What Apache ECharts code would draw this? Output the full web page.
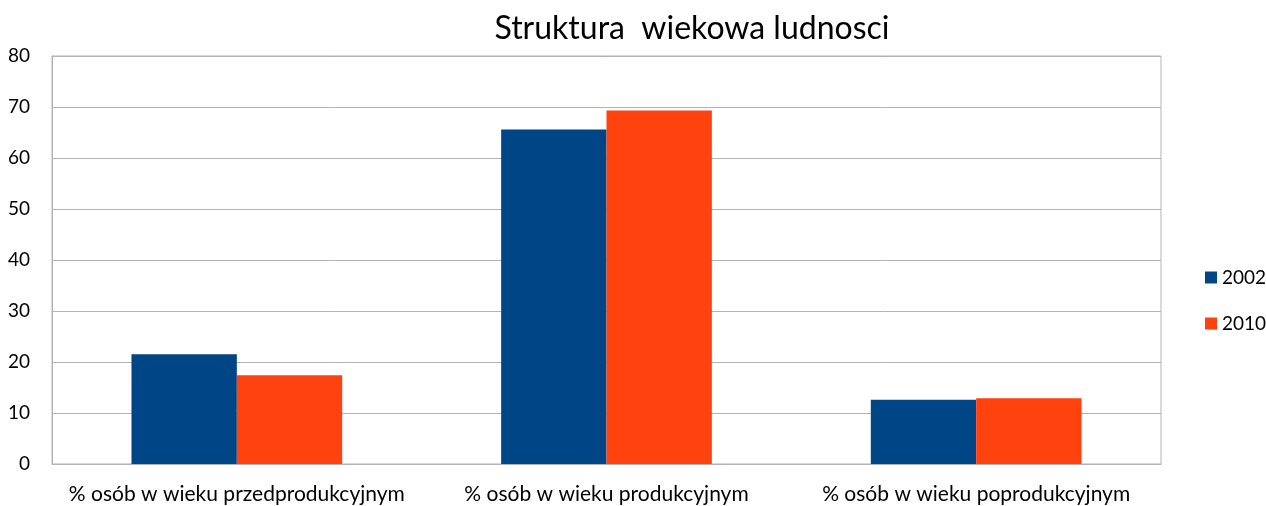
<!DOCTYPE html>
<html>
<head>
<meta charset="utf-8">
<script src="https://cdn.jsdelivr.net/npm/echarts@6/dist/echarts.min.js"></script>
<style>
  html, body { margin: 0; padding: 0; background: #fff; }
  #chart { width: 1266px; height: 506px; }
</style>
</head>
<body>
<div id="chart"></div>
<script>
// kategorie i dane
var categories = [
    '% osób w wieku przedprodukcyjnym',
    '% osób w wieku produkcyjnym',
    '% osób w wieku poprodukcyjnym'
];
var seriesNames = ['2002', '2010'];
var values2002 = [21.5, 65.6, 12.6];
var values2010 = [17.4, 69.3, 12.9];
var colors = ['#004586', '#ff420e'];

var fontFamily = 'Lato, "Open Sans", sans-serif';
var chart = echarts.init(document.getElementById('chart'));

chart.setOption({
    animation: false,
    textStyle: { fontFamily: fontFamily },
    title: {
        text: 'Struktura  wiekowa ludnosci',
        left: 687,
        top: 8,
        textAlign: 'center',
        textStyle: { fontSize: 32, fontWeight: 'normal', color: '#000', fontFamily: fontFamily }
    },
    legend: {
        orient: 'vertical',
        left: 1200,
        top: 263,
        itemWidth: 12,
        itemHeight: 12,
        itemGap: 27,
        icon: 'rect',
        textStyle: { fontSize: 19, color: '#000', fontFamily: fontFamily },
        data: seriesNames
    },
    grid: { left: 52, right: 105, top: 56, bottom: 42, show: true, borderColor: '#b3b3b3', borderWidth: 1 },
    xAxis: {
        type: 'category',
        data: categories,
        axisLine: { lineStyle: { color: '#b3b3b3' } },
        axisTick: { show: false },
        axisLabel: { fontSize: 21, color: '#000', margin: 20, interval: 0, fontFamily: fontFamily }
    },
    yAxis: {
        type: 'value',
        min: 0,
        max: 80,
        interval: 10,
        axisLine: { show: true, lineStyle: { color: '#b3b3b3' } },
        axisTick: { show: false },
        axisLabel: { fontSize: 19, color: '#000', margin: 22, fontFamily: fontFamily },
        splitLine: { lineStyle: { color: '#b3b3b3' } }
    },
    series: [
        {
            name: seriesNames[0],
            type: 'bar',
            data: values2002,
            itemStyle: { color: colors[0] },
            barGap: '0%',
            barCategoryGap: '43%'
        },
        {
            name: seriesNames[1],
            type: 'bar',
            data: values2010,
            itemStyle: { color: colors[1] },
            barGap: '0%',
            barCategoryGap: '43%'
        }
    ]
});
</script>
</body>
</html>
